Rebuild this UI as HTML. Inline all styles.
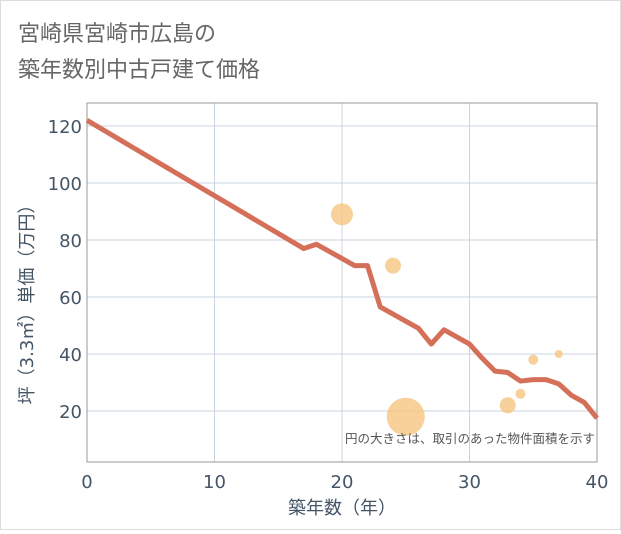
<!DOCTYPE html>
<html><head><meta charset="utf-8"><style>
body{margin:0;background:#fff;font-family:"DejaVu Sans","Noto Sans CJK JP",sans-serif}
#wrap{position:relative;width:621px;height:530px}
</style></head><body>
<div id="wrap">
<svg id="svg" width="621" height="530" xmlns="http://www.w3.org/2000/svg" font-family="'DejaVu Sans','Noto Sans CJK JP',sans-serif">
<rect x="0.5" y="0.5" width="620" height="529" fill="#fff" stroke="#ddd"/>
<text x="18" y="41" font-size="22" fill="#666">宮崎県宮崎市広島の</text>
<text x="18" y="77" font-size="22" fill="#666">築年数別中古戸建て価格</text>
<g id="plot"></g>
</svg></div>
<script>
const xTicks=[0,10,20,30,40];
const yTicks=[20,40,60,80,100,120];
const lineX=[0,17,18,21,22,23,26,27,28,30,31,32,33,34,35,36,37,38,39,40];
const lineY=[122,77,78.5,71,71,56.5,49,43.5,48.5,43.5,38.5,34,33.5,30.5,31,31,29.5,25.5,23,17.5];
const bubX=[20,24,25,33,34,35,37];
const bubY=[89,71,18,22,26,38,40];
const bubR=[11,8,19,8,5,5,4];
const L=87,R=597,T=103,B=462;
const sx=v=>L+(v-0)/40*(R-L);
const sy=v=>468-v*2.85;
const g=document.getElementById('plot');
const NS='http://www.w3.org/2000/svg';
function el(t,a){const e=document.createElementNS(NS,t);for(const k in a)e.setAttribute(k,a[k]);g.appendChild(e);return e;}
xTicks.forEach(v=>{const l=el('line',{x1:sx(v),x2:sx(v),y1:T,y2:B,stroke:'#c8d4e0','stroke-width':1});


const t=el('text',{x:sx(v),y:B+26,'font-size':18,fill:'#445566','text-anchor':'middle'});t.textContent=v;

});
yTicks.forEach(v=>{const l=el('line',{x1:L,x2:R,y1:sy(v),y2:sy(v),stroke:'#c8d4e0','stroke-width':1});


const t=el('text',{x:L-5,y:sy(v)+7,'font-size':18,fill:'#445566','text-anchor':'end'});t.textContent=v;

});
const fr=el('rect',{x:L,y:T,width:R-L,height:B-T,fill:'none',stroke:'#999','stroke-width':1});


bubX.forEach((v,i)=>{const c=el('circle',{cx:sx(v),cy:sy(bubY[i]),r:bubR[i],fill:'#f5c67f','fill-opacity':0.8});

});
const p=el('polyline',{points:lineX.map((v,i)=>sx(v)+','+sy(lineY[i])).join(' '),fill:'none',stroke:'#d4705a','stroke-width':5,'stroke-linejoin':'round'});


const n=el('text',{x:595,y:443,'font-size':12.5,fill:'#555','text-anchor':'end'});n.textContent='円の大きさは、取引のあった物件面積を示す';


const xt=el('text',{x:(L+R)/2,y:514,'font-size':18,fill:'#445566','text-anchor':'middle'});xt.textContent='築年数（年）';


const yt=el('text',{x:0,y:0,'font-size':18,fill:'#445566','text-anchor':'middle',transform:'translate(33,300) rotate(-90)'});yt.textContent='坪（3.3㎡）単価（万円）';


</script>
</body></html>
